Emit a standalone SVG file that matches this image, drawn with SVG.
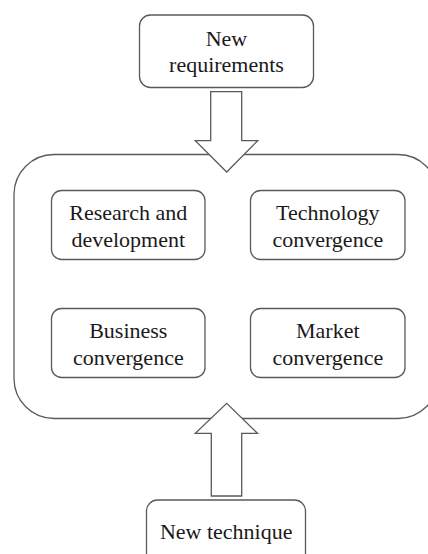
<svg xmlns="http://www.w3.org/2000/svg" width="428" height="554" viewBox="0 0 428 554">
<style>
.box{fill:#fff;stroke:#595959;stroke-width:1.3}
.arrow{fill:#fff;stroke:#595959;stroke-width:1.3;stroke-linejoin:miter}
.t{font-size:22px;fill:#1a1a1a;text-anchor:middle}
</style>
<rect width="428" height="554" fill="#fff"/>
<g id="container">
<rect class="box" x="14" y="154.5" width="424" height="264" rx="40" ry="40"/>
</g>
<g font-family="Liberation Serif, Times New Roman, serif">
<g id="new-requirements">
<rect class="box" x="139.5" y="15" width="174" height="72.5" rx="11"/>
<text class="t" x="226.5" y="45.5">New</text>
<text class="t" x="226.5" y="71.5">requirements</text>
</g>
<g id="research-development">
<rect class="box" x="51.5" y="190.5" width="153.5" height="69" rx="10"/>
<text class="t" x="128.3" y="220">Research and</text>
<text class="t" x="128.3" y="246.5">development</text>
</g>
<g id="technology-convergence">
<rect class="box" x="250.5" y="190.5" width="154.5" height="69" rx="10"/>
<text class="t" x="327.8" y="220">Technology</text>
<text class="t" x="327.8" y="246.5">convergence</text>
</g>
<g id="business-convergence">
<rect class="box" x="51.5" y="308.5" width="153.5" height="69" rx="10"/>
<text class="t" x="128.3" y="338.3">Business</text>
<text class="t" x="128.3" y="365">convergence</text>
</g>
<g id="market-convergence">
<rect class="box" x="250.5" y="308.5" width="154.5" height="69" rx="10"/>
<text class="t" x="327.8" y="338.3">Market</text>
<text class="t" x="327.8" y="365">convergence</text>
</g>
<g id="new-technique">
<rect class="box" x="146.5" y="500" width="159" height="70" rx="11"/>
<text class="t" x="226.2" y="538.5">New technique</text>
</g>
</g>
<g id="connectors">
<polygon class="arrow" points="210.7,91.7 241.7,91.7 241.7,140.7 257.7,140.7 226.7,172 195.3,140.7 210.7,140.7"/>
<polygon class="arrow" points="211.3,496 241.7,496 241.7,433.3 257.5,433.3 226.7,403.3 195.3,433.3 211.3,433.3"/>
</g>
</svg>
